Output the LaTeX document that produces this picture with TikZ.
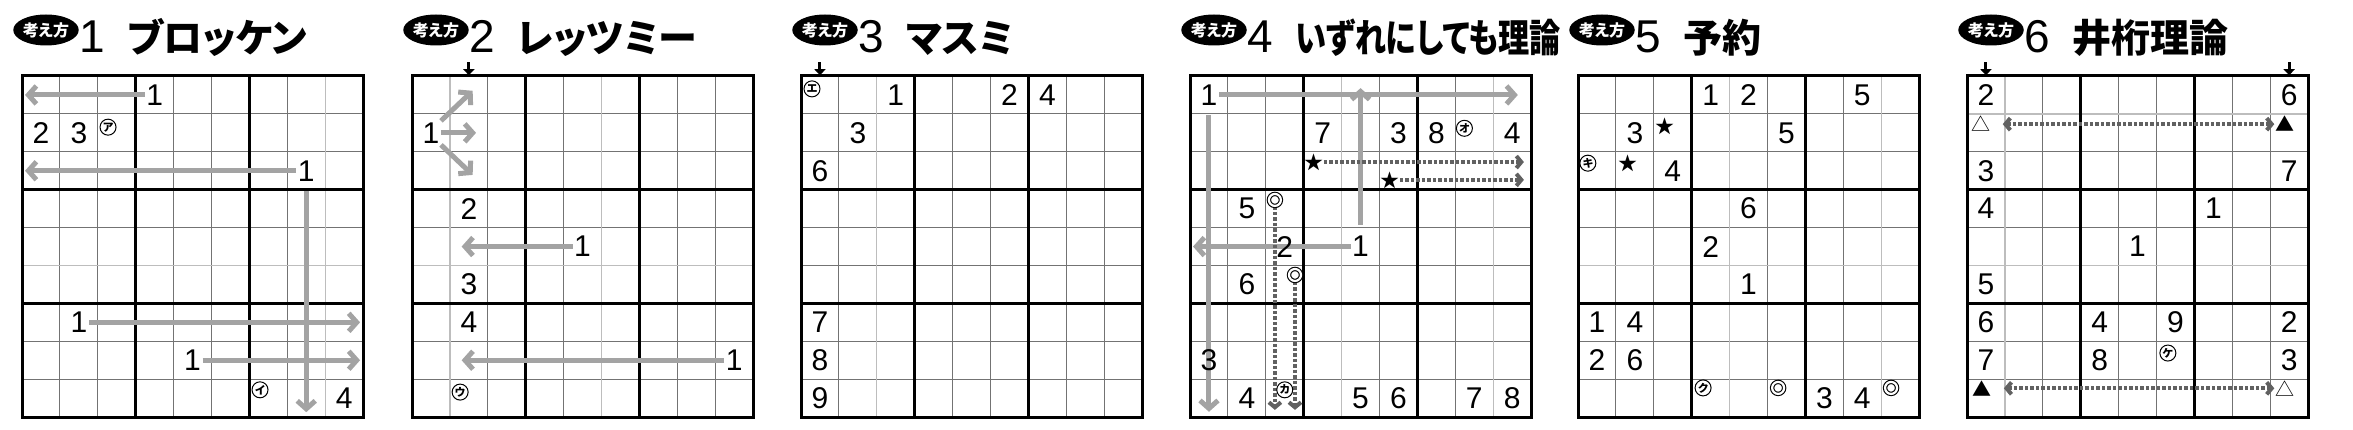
\documentclass[tikz,border=0pt]{standalone}
\usepackage{graphicx}
\usepackage{fontspec}
\setmainfont{Liberation Sans}
\newfontfamily\jpfont[CharacterWidth=AlternateProportional]{Noto Sans CJK JP}
\usetikzlibrary{arrows.meta,shapes.geometric}
\definecolor{arrgray}{gray}{0.64}
\definecolor{dotgray}{gray}{0.38}
\definecolor{thingray}{gray}{0.45}
\definecolor{lightgray}{gray}{0.74}
\pgfdeclarelayer{gridl}
\pgfdeclarelayer{arrl}
\pgfsetlayers{gridl,arrl,main}
\tikzset{
  cells/.style={shift={(#1,76)}, x=37.9pt, y=-37.9pt},
  dig/.style={inner sep=1.5pt, font=\fontsize{30}{30}\selectfont},
  badge/.style={ellipse, fill=black, text=white, inner sep=0pt, minimum width=53pt, minimum height=31pt,
    font=\jpfont\bfseries\fontsize{16}{16}\selectfont},
  tnum/.style={anchor=base west, inner sep=0pt, font=\fontsize{46}{46}\selectfont},
  ttl/.style={anchor=base west, inner sep=0pt, font=\jpfont\bfseries\fontsize{39}{39}\selectfont},
  ck/.style={circle, draw, line width=1pt, inner sep=0pt, minimum size=16pt, font=\jpfont\bfseries\fontsize{11}{11}\selectfont},
  dblc/.style={circle, draw, double, double distance=2.2pt, line width=1.1pt, inner sep=0pt, minimum size=12pt},
  star/.style={inner sep=0pt, font=\jpfont\fontsize{19}{19}\selectfont},
  tri/.style={inner sep=0pt, font=\jpfont\fontsize{19}{19}\selectfont},
  thinl/.style={thingray, line width=1pt},
  lightl/.style={lightgray, line width=1.3pt},
  blockl/.style={line width=2.5pt},
  borderl/.style={line width=3pt},
  garrow/.style={draw=arrgray, line width=5pt, >={Straight Barb[length=8pt,width=18pt]}, ->},
  darrow/.style={draw=dotgray, line width=4pt, dash pattern=on 3.5pt off 2pt, >={Straight Barb[length=5pt,width=12pt]}, ->},
  dboth/.style={darrow, <->},
  downmark/.style={line width=3pt, -{Triangle[length=6pt,width=11pt]}},
}
\begin{document}
\begin{tikzpicture}[x=1pt, y=-1pt]
\useasboundingbox (0,0) rectangle (2353,430);

% titles
\foreach \L/\n/\t/\s in {22/1/ブロッケン/1, 412/2/レッツミー/1, 801/3/マスミ/1, 1190/4/いずれにしても理論/0.8, 1578/5/予約/1, 1967/6/井桁理論/1}{
  \node[badge] (bdg\n) at ({\L+24},30) {考え方};
  \node[tnum] (num\n) at ({\L+57},53) {\n};
  \node[ttl] (ttl\n) at ([xshift=22pt]num\n.base east) {\scalebox{\s}[1]{\t}};
}

% grids
\begin{pgfonlayer}{gridl}
\foreach \L in {22,412,801,1190,1578,1967}{
  \begin{scope}[cells=\L]
    \foreach \i in {1,2,4,5,7,8}
      \draw[thinl] (\i,0) -- (\i,9) (0,\i) -- (9,\i);
  \end{scope}
}
\foreach \L/\i in {22/8,412/1,412/5,801/2,1190/4,1190/8,1578/4,1578/8,1967/1}
  \draw[lightl] ({\L+37.9*\i},76) -- ++(0,341);
\foreach \L/\i in {22/5,412/5,1578/5,1967/1,1967/5}
  \draw[lightl] (\L,{76+37.9*\i}) -- ++(341,0);
\foreach \L in {22,412,801,1190,1578,1967}{
  \begin{scope}[cells=\L]
    \foreach \i in {3,6}
      \draw[blockl] (\i,0) -- (\i,9) (0,\i) -- (9,\i);
    \draw[borderl] (0,0) rectangle (9,9);
  \end{scope}
}
\end{pgfonlayer}

% 1 ブロッケン
\begin{scope}[cells=22]
  \foreach \c/\r/\v [count=\k] in {3/0/1,0/1/2,1/1/3,7/2/1,1/6/1,4/7/1,8/8/4}
    \node[dig] (a\k) at (\c+.5,\r+.5) {\v};
  \node[ck] (a-a) at (2.27,1.35) {ア};
  \node[ck] (a-i) at (6.28,8.28) {イ};
  \coordinate (a-e1) at (0.08,0.5);
  \coordinate (a-e2) at (0.08,2.5);
  \coordinate (a-e3) at (7.5,8.87);
  \coordinate (a-e4) at (8.92,6.5);
  \coordinate (a-e5) at (8.92,7.5);
  \begin{pgfonlayer}{arrl}
    \draw[garrow] (a1) -- (a-e1);
    \draw[garrow] (a4) -- (a-e2);
    \draw[garrow] ([yshift=-8pt]a4.south) -- (a-e3);
    \draw[garrow] (a5) -- (a-e4);
    \draw[garrow] (a6) -- (a-e5);
  \end{pgfonlayer}
\end{scope}

% 2 レッツミー
\begin{scope}[cells=412]
  \foreach \c/\r/\v [count=\k] in {0/1/1,1/3/2,4/4/1,1/5/3,1/6/4,8/7/1}
    \node[dig] (b\k) at (\c+.5,\r+.5) {\v};
  \node[ck] (b-u) at (1.27,8.34) {ウ};
  \coordinate (b-m0) at (1.5,-0.36);
  \coordinate (b-m1) at (1.5,-0.02);
  \draw[downmark] (b-m0) -- (b-m1);
  \coordinate (b-e1) at (1.6,0.39);
  \coordinate (b-e2) at (1.69,1.5);
  \coordinate (b-e3) at (1.6,2.61);
  \coordinate (b-e4) at (1.31,4.5);
  \coordinate (b-e5) at (1.31,7.5);
  \begin{pgfonlayer}{arrl}
    \draw[garrow] (b1.north east) -- (b-e1);
    \draw[garrow] (b1.east) -- (b-e2);
    \draw[garrow] (b1.south east) -- (b-e3);
    \draw[garrow] (b3) -- (b-e4);
    \draw[garrow] (b6) -- (b-e5);
  \end{pgfonlayer}
\end{scope}

% 3 マスミ
\begin{scope}[cells=801]
  \foreach \c/\r/\v [count=\k] in {2/0/1,5/0/2,6/0/4,1/1/3,0/2/6,0/6/7,0/7/8,0/8/9}
    \node[dig] (c\k) at (\c+.5,\r+.5) {\v};
  \node[ck] (c-e) at (0.29,0.34) {エ};
  \coordinate (c-m0) at (0.5,-0.36);
  \coordinate (c-m1) at (0.5,-0.02);
  \draw[downmark] (c-m0) -- (c-m1);
\end{scope}

% 4 いずれにしても理論
\begin{scope}[cells=1190]
  \foreach \c/\r/\v [count=\k] in {0/0/1,3/1/7,5/1/3,6/1/8,8/1/4,1/3/5,2/4/2,4/4/1,1/5/6,0/7/3,1/8/4,4/8/5,5/8/6,7/8/7,8/8/8}
    \node[dig] (d\k) at (\c+.5,\r+.5) {\v};
  \node[ck] (d-o) at (7.24,1.38) {オ};
  \node[ck] (d-ka) at (2.5,8.28) {カ};
  \node[star] (d-s1) at (3.27,2.27) {★};
  \node[star] (d-s2) at (5.28,2.74) {★};
  \node[dblc] (d-w1) at (2.24,3.27) {};
  \node[dblc] (d-w2) at (2.77,5.25) {};
  \coordinate (d-e1) at (8.65,0.5);
  \coordinate (d-e2) at (0.5,8.86);
  \coordinate (d-e3) at (4.5,0.32);
  \coordinate (d-e4) at (0.08,4.5);
  \coordinate (d-e5) at (8.81,2.27);
  \coordinate (d-e6) at (8.81,2.74);
  \coordinate (d-e7) at (2.24,8.81);
  \coordinate (d-e8) at (2.77,8.81);
  \begin{pgfonlayer}{arrl}
    \draw[garrow] (d1) -- (d-e1);
    \draw[garrow] ([yshift=-8pt]d1.south) -- (d-e2);
    \draw[garrow] ([yshift=10pt]d8.north) -- (d-e3);
    \draw[garrow] (d8) -- (d-e4);
    \draw[darrow] (d-s1) -- (d-e5);
    \draw[darrow] (d-s2) -- (d-e6);
    \draw[darrow] (d-w1) -- (d-e7);
    \draw[darrow] (d-w2) -- (d-e8);
  \end{pgfonlayer}
\end{scope}

% 5 予約
\begin{scope}[cells=1578]
  \foreach \c/\r/\v [count=\k] in {3/0/1,4/0/2,7/0/5,1/1/3,5/1/5,2/2/4,4/3/6,3/4/2,4/5/1,0/6/1,1/6/4,0/7/2,1/7/6,6/8/3,7/8/4}
    \node[dig] (e\k) at (\c+.5,\r+.5) {\v};
  \node[star] (e-s1) at (2.3,1.32) {★};
  \node[star] (e-s2) at (1.32,2.3) {★};
  \node[ck] (e-ki) at (0.26,2.3) {キ};
  \node[ck] (e-ku) at (3.3,8.23) {ク};
  \node[dblc] (e-w1) at (5.28,8.23) {};
  \node[dblc] (e-w2) at (8.26,8.23) {};
\end{scope}

% 6 井桁理論
\begin{scope}[cells=1967]
  \foreach \c/\r/\v [count=\k] in {0/0/2,8/0/6,0/2/3,8/2/7,0/3/4,6/3/1,4/4/1,0/5/5,0/6/6,3/6/4,5/6/9,8/6/2,0/7/7,3/7/8,8/7/3}
    \node[dig] (f\k) at (\c+.5,\r+.5) {\v};
  \node[ck] (f-ke) at (5.3,7.31) {ケ};
  \node[tri] (f-w1) at (0.37,1.27) {△};
  \node[tri] (f-b1) at (8.39,1.27) {▲};
  \node[tri] (f-b2) at (0.4,8.24) {▲};
  \node[tri] (f-w2) at (8.39,8.24) {△};
  \coordinate (f-m0) at (0.5,-0.36);
  \coordinate (f-m1) at (0.5,-0.02);
  \coordinate (f-m2) at (8.5,-0.36);
  \coordinate (f-m3) at (8.5,-0.02);
  \draw[downmark] (f-m0) -- (f-m1);
  \draw[downmark] (f-m2) -- (f-m3);
  \begin{pgfonlayer}{arrl}
    \draw[dboth, shorten <=12pt, shorten >=1pt] (f-w1) -- (f-b1);
    \draw[dboth, shorten <=12pt, shorten >=1pt] (f-b2) -- (f-w2);
  \end{pgfonlayer}
\end{scope}
\end{tikzpicture}
\end{document}
